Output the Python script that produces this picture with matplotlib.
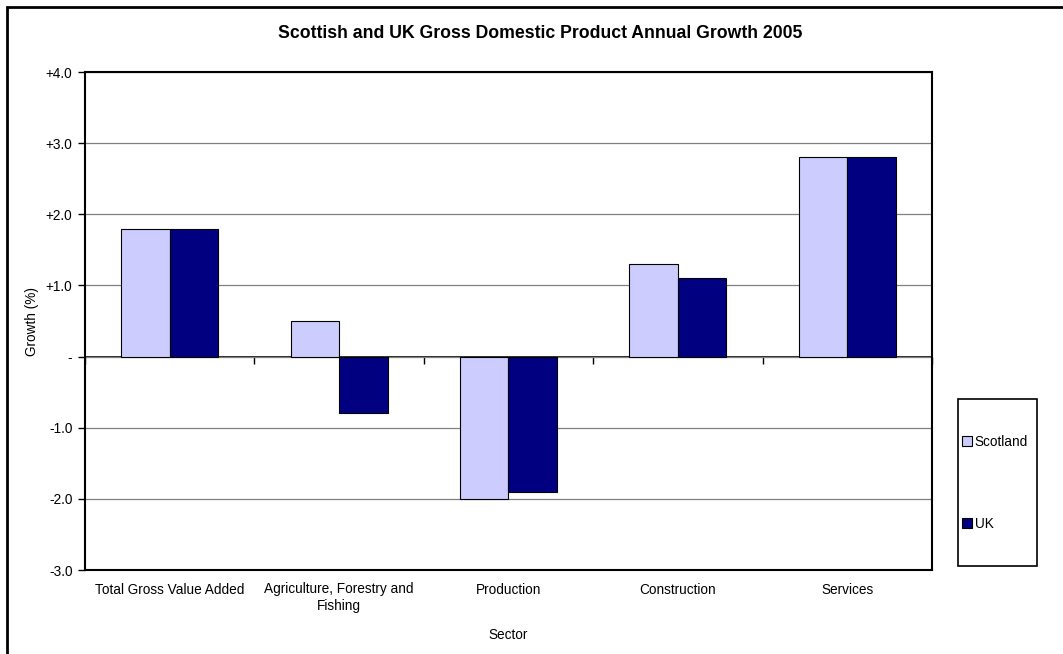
import numpy as np
import matplotlib.pyplot as plt
from matplotlib.patches import Rectangle

plt.rcParams['font.family'] = ['Liberation Sans', 'DejaVu Sans']

sectors = ['Total Gross Value Added', 'Agriculture, Forestry and\nFishing',
           'Production', 'Construction', 'Services']
scotland = [1.8, 0.5, -2.0, 1.3, 2.8]
uk = [1.8, -0.8, -1.9, 1.1, 2.8]
yticks = [-3, -2, -1, 0, 1, 2, 3, 4]
ytick_labels = ['-3.0', '-2.0', '-1.0', '-', '+1.0', '+2.0', '+3.0', '+4.0']

fs = 9.8
fig = plt.figure(figsize=(10.63, 6.54), dpi=100)
ax = fig.add_axes([85 / 1063, 1 - 570 / 654, (932 - 85) / 1063, (570 - 72) / 654])

x = np.arange(len(sectors))
w = 0.286
ax.bar(x - w / 2, scotland, w, color='#CCCCFF', edgecolor='black', linewidth=0.8,
       label='Scotland', zorder=3)
ax.bar(x + w / 2, uk, w, color='#000080', edgecolor='black', linewidth=0.8,
       label='UK', zorder=3)

ax.set_xlim(-0.5, len(sectors) - 0.5)
ax.set_ylim(-3, 4)
ax.set_yticks(yticks)
ax.set_yticklabels(ytick_labels)
ax.set_xticks(x)
ax.set_xticklabels(sectors)
ax.tick_params(axis='x', length=0, pad=9, labelsize=fs)
ax.tick_params(axis='y', length=5, width=1, labelsize=fs, pad=4)
ax.yaxis.grid(True, color='#808080', linewidth=0.9, zorder=0)
for s in ax.spines.values():
    s.set_linewidth(1.5)
    s.set_color('black')

# category axis crossing at zero
sec = ax.secondary_xaxis(0, transform=ax.transData)
sec.set_xticks(np.arange(len(sectors) + 1) - 0.5)
sec.set_xticklabels([])
sec.tick_params(length=5, width=1, direction='out')
sec.spines['bottom'].set_linewidth(1.2)

ax.set_xlabel('Sector', fontsize=fs, labelpad=11)
ax.set_ylabel('Growth (%)', fontsize=fs, labelpad=5)
fig.text(540 / 1063, 1 - 33 / 654, 'Scottish and UK Gross Domestic Product Annual Growth 2005',
         ha='center', va='center', fontsize=12.7, fontweight='bold')

# legend entries without frame, box drawn separately
leg = fig.legend(loc='upper left', bbox_to_anchor=(962 / 1063, 1 - 435 / 654),
                 bbox_transform=fig.transFigure, borderaxespad=0, frameon=False,
                 fontsize=fs, handlelength=0.75, handleheight=0.75,
                 handletextpad=0.2, labelspacing=5.0, borderpad=0)
fig.patches.append(Rectangle((958 / 1063, 1 - 566 / 654), 79 / 1063, 167 / 654,
                             transform=fig.transFigure, fill=False, edgecolor='black',
                             linewidth=1.2))

fig.patches.append(Rectangle((7 / 1063, -0.1), 1.2, 1.1 - 7 / 654, transform=fig.transFigure,
                             fill=False, edgecolor='black', linewidth=2))

fig.savefig('out.png', dpi=100)
